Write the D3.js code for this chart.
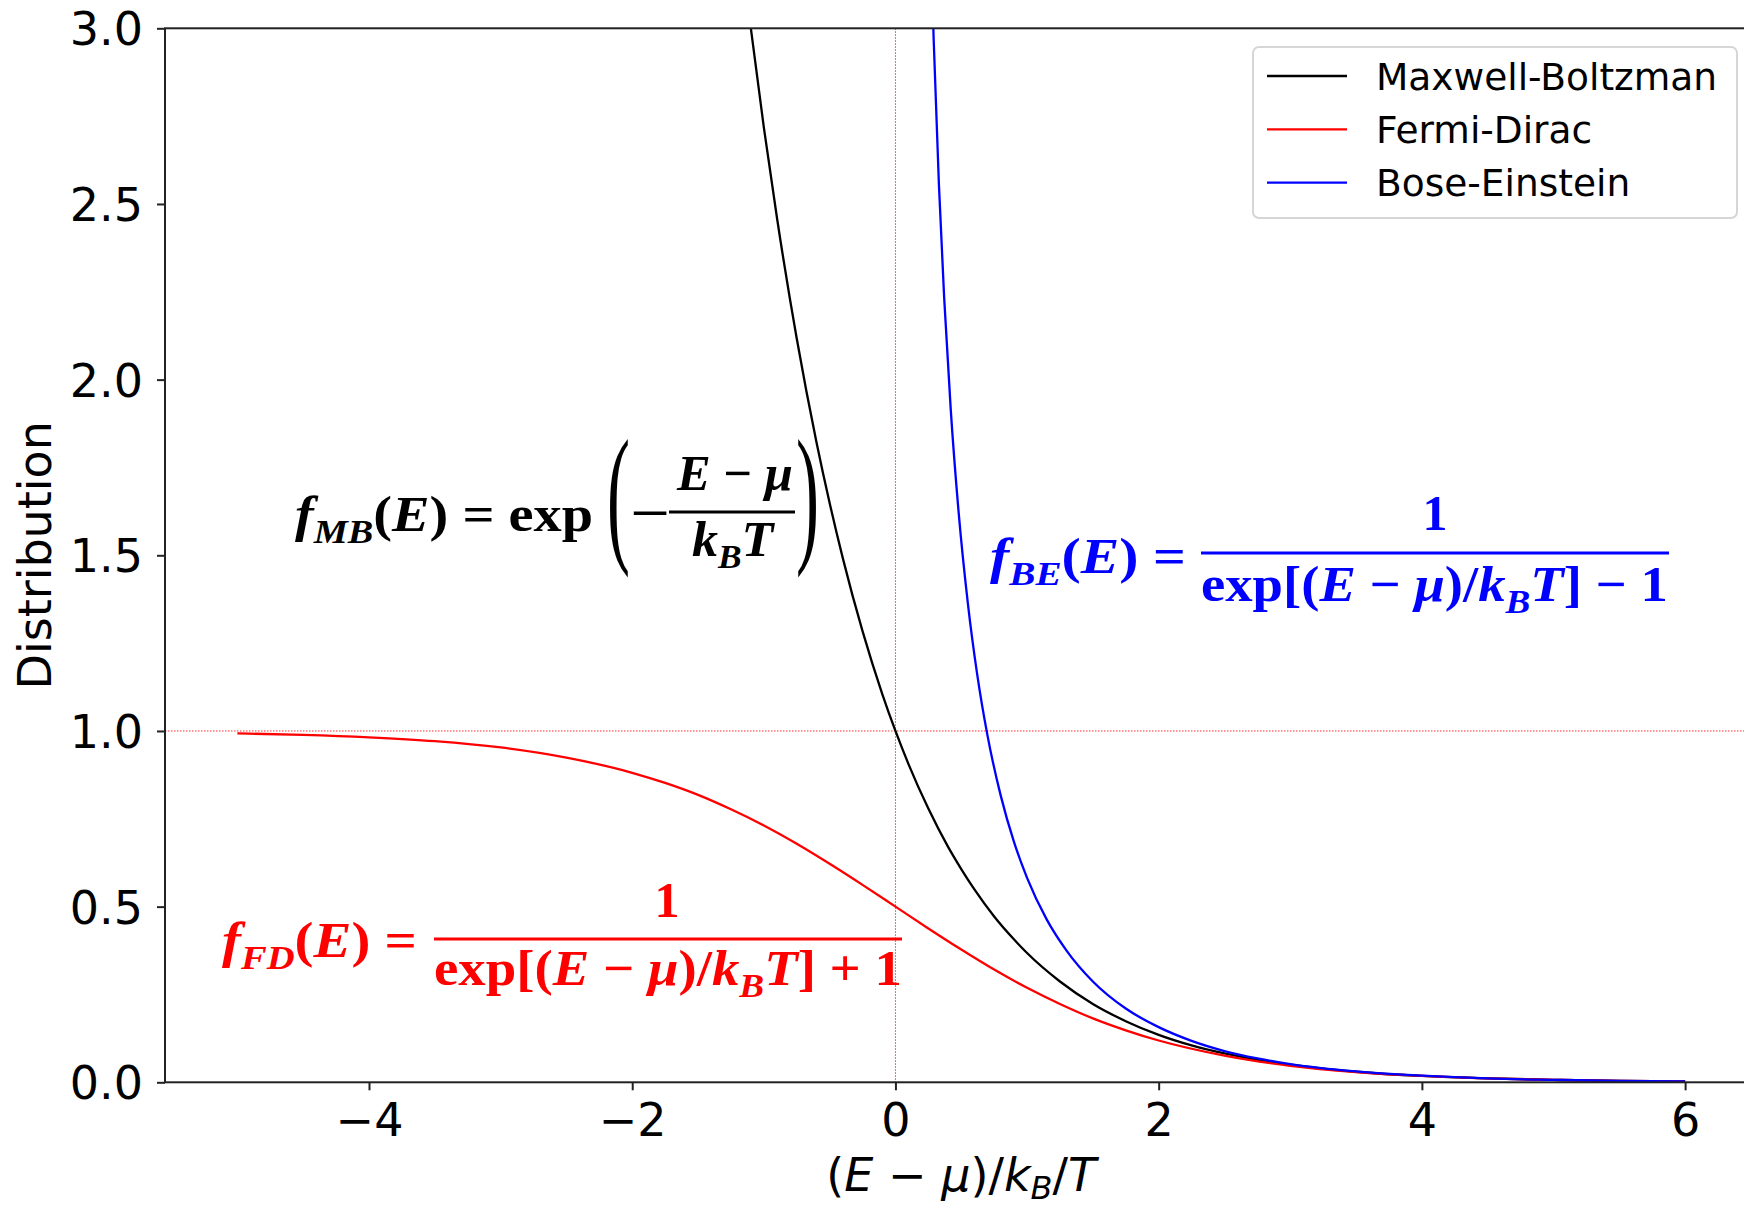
<!DOCTYPE html>
<html>
<head>
<meta charset="utf-8">
<script src="https://cdn.jsdelivr.net/npm/d3@7"></script>
<style>
body { margin: 0; background: #fff; }
</style>
</head>
<body>
<div id="chart"></div>
<script>
// values: x = (E - mu)/kT, y = occupation
const mbE = [-1.25, -1.1, -1.0, -0.9, -0.75, -0.6, -0.5, -0.4, -0.25, -0.1, 0, 0.1, 0.25, 0.4, 0.5, 0.6, 0.75, 0.9, 1, 1.25, 1.5, 1.75, 2, 2.25, 2.5, 2.75, 3, 3.5, 4, 4.5, 5, 5.5, 6];
const mbF = [3.49, 3.004, 2.718, 2.46, 2.117, 1.822, 1.649, 1.492, 1.284, 1.105, 1.0, 0.905, 0.779, 0.67, 0.607, 0.549, 0.472, 0.407, 0.368, 0.287, 0.223, 0.174, 0.135, 0.105, 0.082, 0.064, 0.05, 0.03, 0.018, 0.011, 0.007, 0.004, 0.0025];

const fdE = [-5, -4.5, -4, -3.5, -3, -2.5, -2, -1.75, -1.5, -1.25, -1, -0.75, -0.5, -0.25, 0, 0.25, 0.5, 0.75, 1, 1.25, 1.5, 1.75, 2, 2.5, 3, 3.5, 4, 4.5, 5, 5.5, 6];
const fdF = [0.993, 0.989, 0.982, 0.971, 0.953, 0.924, 0.881, 0.852, 0.818, 0.777, 0.731, 0.679, 0.622, 0.562, 0.5, 0.438, 0.378, 0.321, 0.269, 0.223, 0.182, 0.148, 0.119, 0.076, 0.047, 0.029, 0.018, 0.011, 0.007, 0.004, 0.0025];

const beE = [0.25, 0.29, 0.33, 0.37, 0.42, 0.48, 0.55, 0.62, 0.7, 0.8, 0.9, 1.0, 1.15, 1.3, 1.5, 1.75, 2, 2.25, 2.5, 2.75, 3, 3.5, 4, 4.5, 5, 5.5, 6];
const beF = [3.521, 2.973, 2.558, 2.234, 1.916, 1.623, 1.364, 1.164, 0.986, 0.816, 0.685, 0.582, 0.463, 0.375, 0.287, 0.21, 0.157, 0.118, 0.089, 0.068, 0.052, 0.031, 0.019, 0.011, 0.007, 0.004, 0.0025];

const seriesNames = ["Maxwell-Boltzman", "Fermi-Dirac", "Bose-Einstein"];
const seriesColors = ["#000000", "#ff0000", "#0000ff"];
const xTicks = [-4, -2, 0, 2, 4, 6];
const yTicks = [0, 0.5, 1, 1.5, 2, 2.5, 3];

const width = 1744, height = 1206;
const tickFont = "DejaVu Sans";
const mathFont = "Liberation Serif";

let svg = d3.select("#chart").append("svg")
    .attr("width", width)
    .attr("height", height);
svg.append("rect").attr("width", width).attr("height", height).attr("fill", "#fff");

let x = d3.scaleLinear().domain([-5.55, 6.55]).range([165, 1757.5]);
let y = d3.scaleLinear().domain([0, 3]).range([1082.3, 28.3]);

svg.append("clipPath").attr("id", "plotClip")
    .append("rect")
    .attr("x", x.range()[0]).attr("y", y(3))
    .attr("width", x.range()[1] - x.range()[0])
    .attr("height", y(0) - y(3));

// red dotted guides at E = mu and f = 1
svg.append("line")
    .attr("x1", x(0)).attr("x2", x(0))
    .attr("y1", y(3)).attr("y2", y(0))
    .attr("stroke", "#ff3030").attr("stroke-width", 1)
    .attr("stroke-dasharray", "1.5,1.5");
svg.append("line")
    .attr("x1", x.range()[0]).attr("x2", x.range()[1])
    .attr("y1", y(1)).attr("y2", y(1))
    .attr("stroke", "#ff3030").attr("stroke-width", 1)
    .attr("stroke-dasharray", "1.5,1.5");

let line = d3.line()
    .x(d => x(d[0]))
    .y(d => y(d[1]))
    .curve(d3.curveMonotoneX);

let series = [
    d3.zip(mbE, mbF),
    d3.zip(fdE, fdF),
    d3.zip(beE, beF)
];
svg.append("g").attr("clip-path", "url(#plotClip)")
    .selectAll("path")
    .data(series)
    .enter()
    .append("path")
    .attr("d", line)
    .attr("fill", "none")
    .attr("stroke", (d, i) => seriesColors[i])
    .attr("stroke-width", 2.3);

// axes
let xAxis = svg.append("g")
    .attr("transform", `translate(0,${y(0)})`)
    .call(d3.axisBottom(x).tickValues(xTicks).tickSize(8));
xAxis.select(".domain").remove();
xAxis.selectAll("line").attr("stroke", "#222").attr("stroke-width", 2);
xAxis.selectAll("text")
    .attr("y", 54).attr("dy", 0)
    .attr("fill", "#000")
    .style("font-family", tickFont).style("font-size", "46px");

let yAxis = svg.append("g")
    .attr("transform", `translate(${x.range()[0]},0)`)
    .call(d3.axisLeft(y).tickValues(yTicks).tickSize(8).tickFormat(d3.format(".1f")));
yAxis.select(".domain").remove();
yAxis.selectAll("line").attr("stroke", "#222").attr("stroke-width", 2);
yAxis.selectAll("text")
    .attr("x", -22).attr("dy", "0.36em")
    .attr("fill", "#000")
    .style("font-family", tickFont).style("font-size", "46px");

svg.append("rect")
    .attr("x", x.range()[0]).attr("y", y(3))
    .attr("width", x.range()[1] - x.range()[0])
    .attr("height", y(0) - y(3))
    .attr("fill", "none").attr("stroke", "#222").attr("stroke-width", 2);

// axis titles
let xTitle = svg.append("text")
    .attr("x", (x.range()[0] + x.range()[1]) / 2).attr("y", 1191)
    .attr("text-anchor", "middle")
    .style("font-family", tickFont).style("font-size", "46px");
xTitle.append("tspan").text("(");
xTitle.append("tspan").text("E").style("font-style", "italic");
xTitle.append("tspan").text(" \u2212 ");
xTitle.append("tspan").text("\u03bc").style("font-style", "italic");
xTitle.append("tspan").text(")/");
xTitle.append("tspan").text("k").style("font-style", "italic");
xTitle.append("tspan").text("B").style("font-style", "italic").style("font-size", "32px").attr("dy", 8);
xTitle.append("tspan").text("/").attr("dy", -8);
xTitle.append("tspan").text("T").style("font-style", "italic");

svg.append("text")
    .attr("transform", `translate(51,${(y(0) + y(3)) / 2}) rotate(-90)`)
    .attr("text-anchor", "middle")
    .style("font-family", tickFont).style("font-size", "46px")
    .text("Distribution");

// legend
let legend = svg.append("g");
legend.append("rect")
    .attr("x", 1253).attr("y", 47).attr("width", 484).attr("height", 171)
    .attr("rx", 6)
    .attr("fill", "#fff").attr("fill-opacity", 0.8)
    .attr("stroke", "#d6d6d6").attr("stroke-width", 2);
seriesNames.forEach(function (name, i) {
    let ly = 76 + i * 53.3;
    legend.append("line")
        .attr("x1", 1267).attr("x2", 1347)
        .attr("y1", ly).attr("y2", ly)
        .attr("stroke", seriesColors[i]).attr("stroke-width", 2.3);
    legend.append("text")
        .attr("x", 1376).attr("y", ly + 13.5)
        .style("font-family", tickFont).style("font-size", "37.5px")
        .text(name);
});

// formula helpers
function mathText(g, parts, color, size) {
    let t = g.append("text")
        .attr("fill", color)
        .style("font-family", mathFont).style("font-weight", "bold")
        .style("font-size", size + "px");
    let inSub = false;
    parts.forEach(function (p) {
        let ts = t.append("tspan").text(p.t);
        if (p.i) ts.style("font-style", "italic");
        if (p.sub) {
            ts.style("font-size", (size * 0.68) + "px");
            if (!inSub) ts.attr("dy", size * 0.24);
            inSub = true;
        } else {
            if (inSub) ts.attr("dy", -size * 0.24);
            inSub = false;
        }
    });
    return t;
}

function fitWidth(t, x0, x1, baseline) {
    t.attr("y", baseline);
    let b = t.node().getBBox();
    let k = (x1 - x0) / b.width;
    t.attr("transform", `translate(${x0},0) scale(${k},1) translate(${-b.x},0)`);
}

function fracLine(g, x0, x1, yy, color) {
    g.append("line")
        .attr("x1", x0).attr("x2", x1)
        .attr("y1", yy).attr("y2", yy)
        .attr("stroke", color).attr("stroke-width", 3.2);
}

const fs = 50;
const I = s => ({ t: s, i: true });
const R = s => ({ t: s });
const S = s => ({ t: s, i: true, sub: true });

// Maxwell-Boltzmann formula
let gMB = svg.append("g");
fitWidth(mathText(gMB, [I("f"), S("MB"), R("("), I("E"), R(")"), R(" = "), R("exp")], "#000", fs), 295, 593, 531);
let lp = gMB.append("text").text("(")
    .style("font-family", mathFont).style("font-size", "152px");
fitWidth(lp, 607, 630, 545);
let mn = gMB.append("text").text("\u2212")
    .style("font-family", mathFont).style("font-weight", "bold").style("font-size", fs + "px");
fitWidth(mn, 630, 670, 530);
fracLine(gMB, 669, 795, 512, "#000");
fitWidth(mathText(gMB, [I("E"), R(" \u2212 "), I("\u03bc")], "#000", fs), 676, 793, 490);
fitWidth(mathText(gMB, [I("k"), S("B"), I("T")], "#000", fs), 692, 776, 556);
let rp = gMB.append("text").text(")")
    .style("font-family", mathFont).style("font-size", "152px");
fitWidth(rp, 796, 819, 545);

// Bose-Einstein formula
let gBE = svg.append("g");
const blue = "#0000ff";
fitWidth(mathText(gBE, [I("f"), S("BE"), R("("), I("E"), R(")"), R(" =")], blue, fs), 990, 1186, 573);
fracLine(gBE, 1201, 1669, 553, blue);
mathText(gBE, [R("1")], blue, fs).attr("x", 1435).attr("y", 530).attr("text-anchor", "middle");
fitWidth(mathText(gBE, [R("exp[("), I("E"), R(" \u2212 "), I("\u03bc"), R(")/"), I("k"), S("B"), I("T"), R("] \u2212 1")], blue, fs), 1201, 1668, 601);

// Fermi-Dirac formula
let gFD = svg.append("g");
const red = "#ff0000";
fitWidth(mathText(gFD, [I("f"), S("FD"), R("("), I("E"), R(")"), R(" =")], red, fs), 222, 417, 957);
fracLine(gFD, 434, 902, 939, red);
mathText(gFD, [R("1")], red, fs).attr("x", 667).attr("y", 917).attr("text-anchor", "middle");
fitWidth(mathText(gFD, [R("exp[("), I("E"), R(" \u2212 "), I("\u03bc"), R(")/"), I("k"), S("B"), I("T"), R("] + 1")], red, fs), 434, 902, 985);
</script>
</body>
</html>
